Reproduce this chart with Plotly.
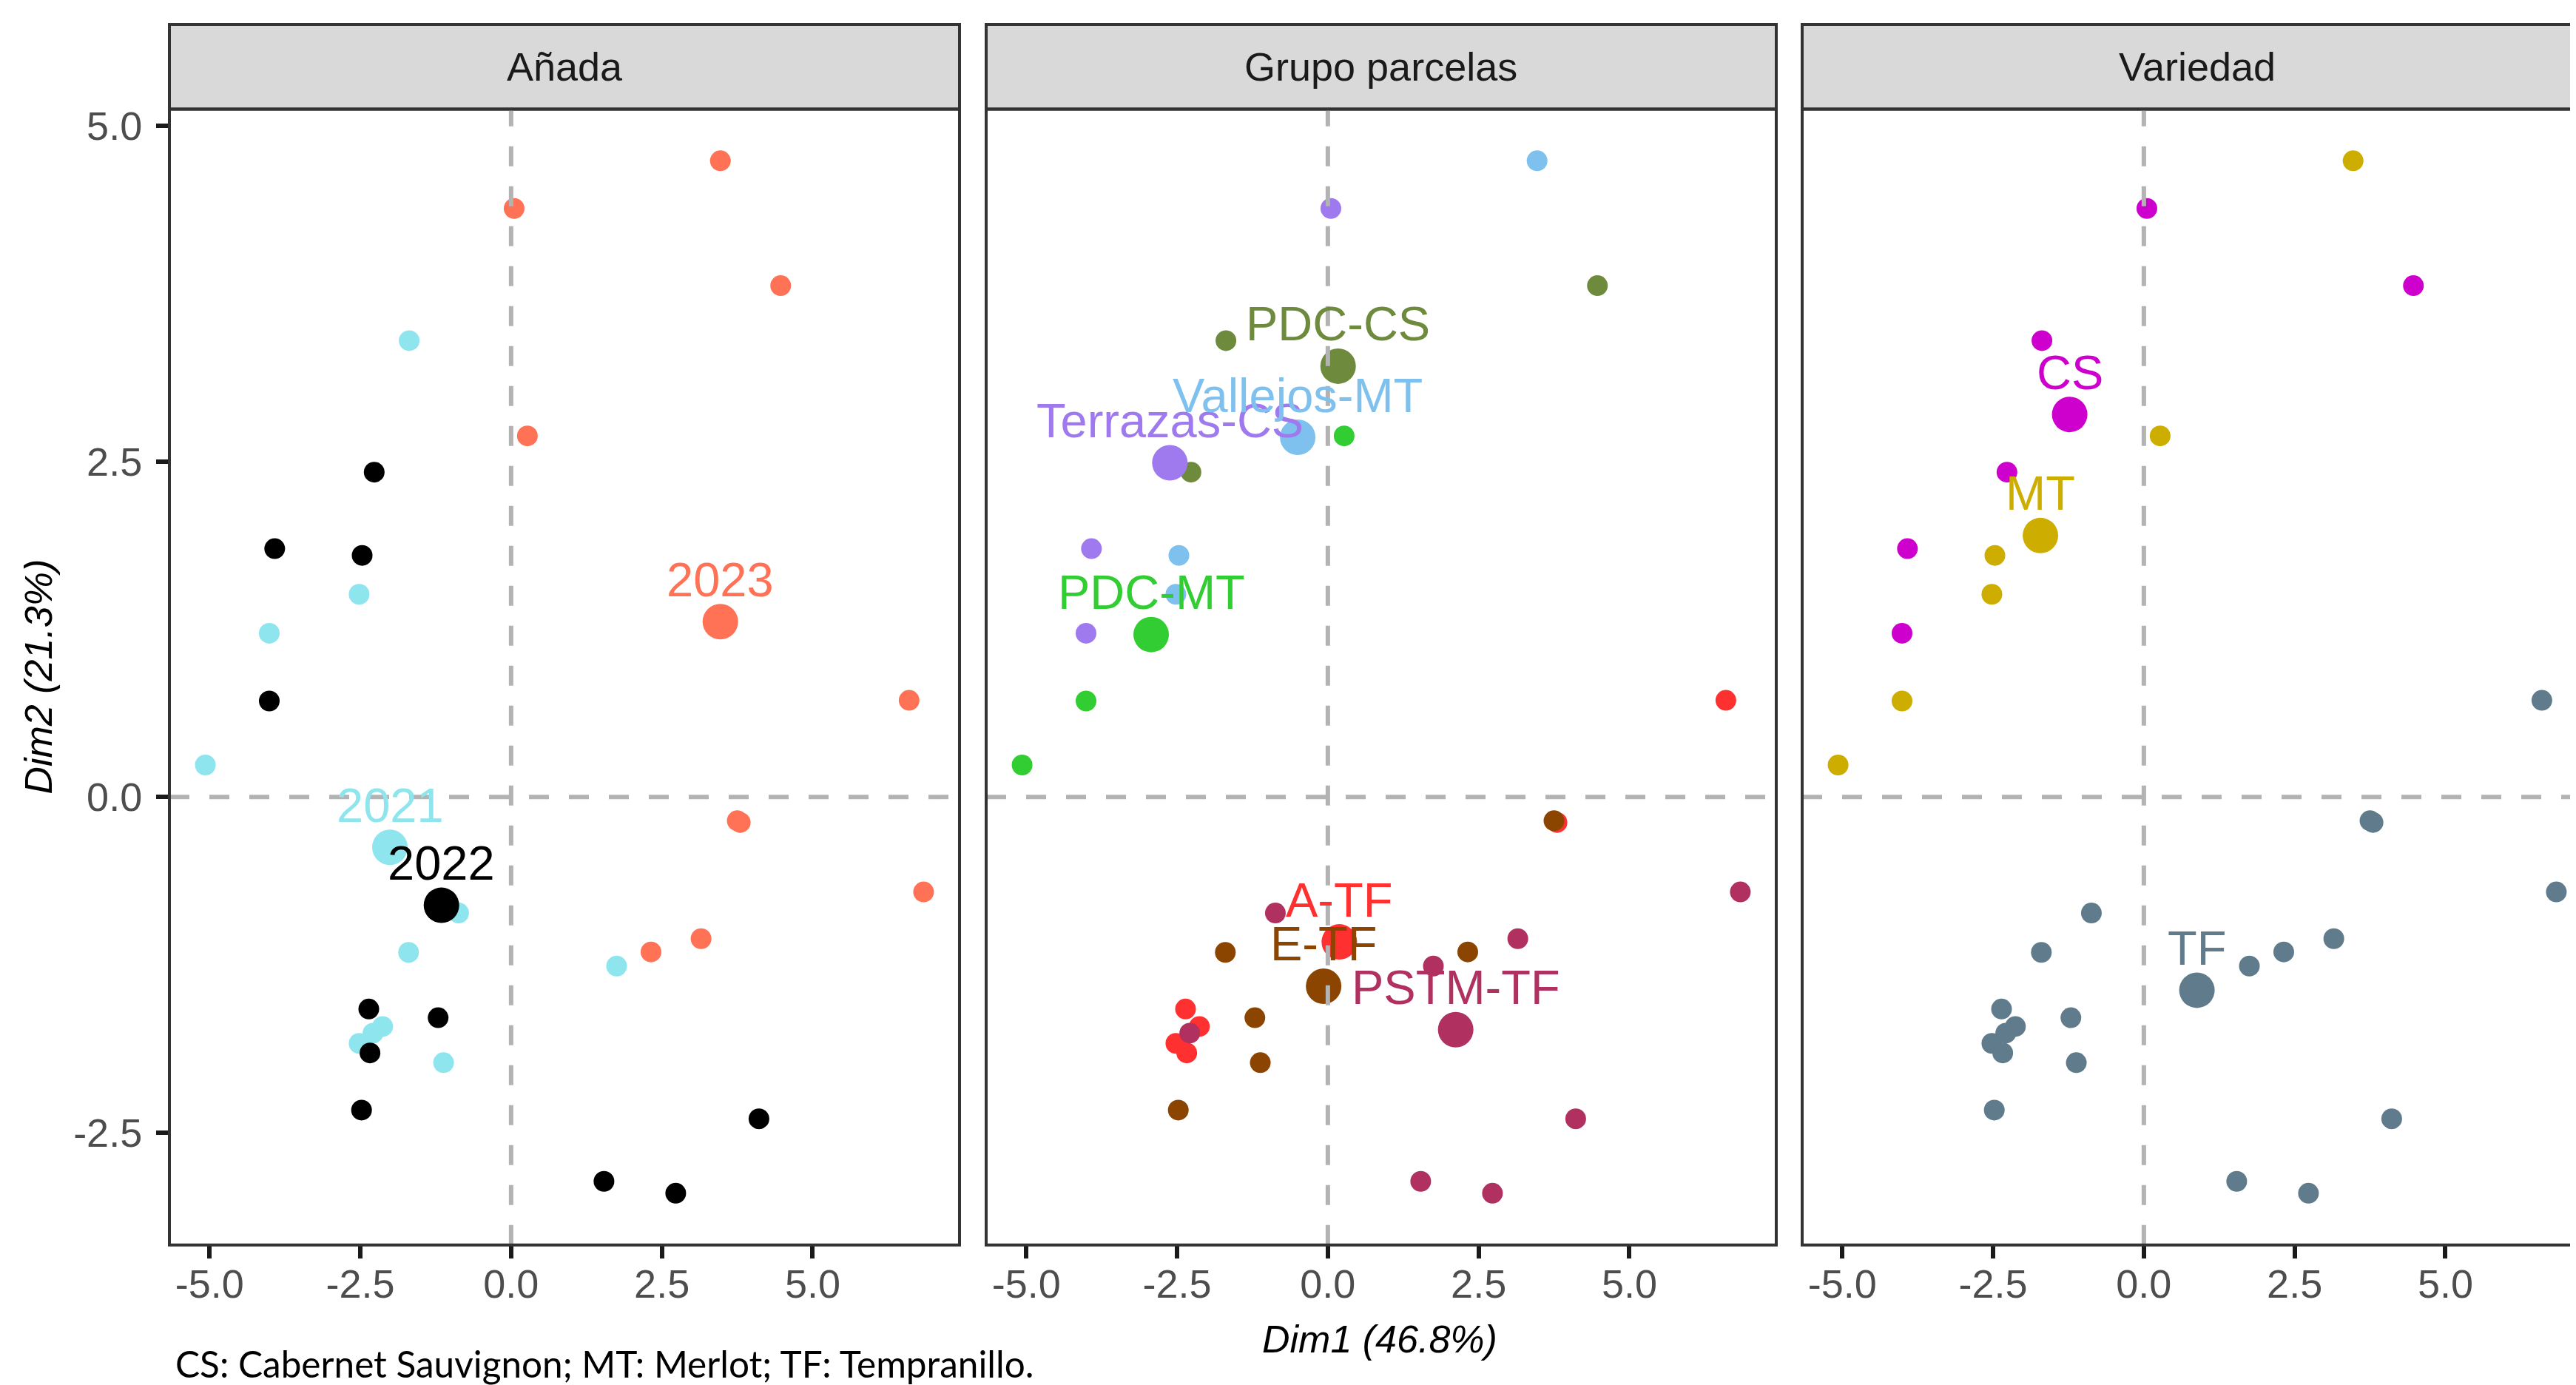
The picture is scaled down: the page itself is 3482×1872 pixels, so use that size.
import plotly.graph_objects as go

W, H = 3482, 1872
OFF = 8  # default browser body margin; figure is drawn 8px in from the top-left
FW, FH = W - OFF, H - OFF

# ---------------- data (individuals) ----------------
dim1 = [3.47, 0.05, 4.47, -1.69, 0.27, -2.27, -3.92, -2.47, -2.52, -4.01, -4.01, -5.07,
        6.60, 3.75, 3.80, -0.87, 6.84, 3.15, 2.32, -1.70, 1.75, -2.36, -1.21, -2.13,
        -2.29, -2.52, -2.34, -1.12, -2.48, 4.11, 1.54, 2.73]
dim2 = [4.74, 4.385, 3.81, 3.40, 2.69, 2.42, 1.85, 1.80, 1.51, 1.22, 0.715, 0.238,
        0.72, -0.177, -0.19, -0.865, -0.708, -1.056, -1.155, -1.158, -1.26, -1.58, -1.645, -1.71,
        -1.76, -1.836, -1.907, -1.98, -2.333, -2.398, -2.864, -2.953]
anada = ["2023", "2023", "2023", "2021", "2023", "2022", "2022", "2022", "2021", "2021", "2022", "2021",
         "2023", "2023", "2023", "2021", "2023", "2023", "2023", "2021", "2021", "2022", "2022", "2021",
         "2021", "2021", "2022", "2021", "2022", "2022", "2022", "2022"]
grupo = ["Vallejos-MT", "Terrazas-CS", "PDC-CS", "PDC-CS", "PDC-MT", "PDC-CS", "Terrazas-CS", "Vallejos-MT",
         "Vallejos-MT", "Terrazas-CS", "PDC-MT", "PDC-MT",
         "A-TF", "E-TF", "A-TF", "PSTM-TF", "PSTM-TF", "PSTM-TF", "E-TF", "E-TF", "PSTM-TF", "A-TF",
         "E-TF", "A-TF", "PSTM-TF", "A-TF", "A-TF", "E-TF", "E-TF", "PSTM-TF", "PSTM-TF", "PSTM-TF"]
variedad = ["MT", "CS", "CS", "CS", "MT", "CS", "CS", "MT", "MT", "CS", "MT", "MT"] + ["TF"] * 20

# ---------------- data (group centroids) ----------------
anada_levels = ["2021", "2022", "2023"]
anada_cx = [-2.01, -1.155, 3.47]
anada_cy = [-0.375, -0.807, 1.306]

grupo_levels = ["A-TF", "E-TF", "PDC-CS", "PDC-MT", "PSTM-TF", "Terrazas-CS", "Vallejos-MT"]
grupo_cx = [0.19, -0.07, 0.17, -2.93, 2.12, -2.62, -0.50]
grupo_cy = [-1.08, -1.41, 3.21, 1.21, -1.734, 2.49, 2.68]

variedad_levels = ["CS", "MT", "TF"]
variedad_cx = [-1.23, -1.715, 0.88]
variedad_cy = [2.85, 1.948, -1.44]

x_ticks = [-5.0, -2.5, 0.0, 2.5, 5.0]
x_ticktext = ["-5.0", "-2.5", "0.0", "2.5", "5.0"]
y_ticks = [-2.5, 0.0, 2.5, 5.0]
y_ticktext = ["-2.5", "0.0", "2.5", "5.0"]

facet_titles = ["Añada", "Grupo parcelas", "Variedad"]

# ---------------- styles ----------------
col_anada = {"2021": "#8EE5EE", "2022": "#000000", "2023": "#FF7256"}
col_grupo = {"A-TF": "#FF3030", "E-TF": "#8B4500", "PDC-CS": "#6E8B3D", "PDC-MT": "#32CD32",
             "PSTM-TF": "#B03060", "Terrazas-CS": "#9F79EE", "Vallejos-MT": "#7EC0EE"}
col_var = {"CS": "#CD00CD", "MT": "#CDAD00", "TF": "#607B8B"}

FONT = "Liberation Sans, Arial, sans-serif"
SMALL = 28
BIG = 48


def px(xp):
    return (xp - OFF) / FW


def py(yp):
    return 1 - (yp - OFF) / FH


# page-pixel layout
panel_top, panel_bot = 141, 1682
strip_top = 26
panels_px = [(229, 1297), (1333, 2401), (2436, 3504)]
xr_full = [-5.666, 7.436]
yr = [-3.338, 5.125]
unit = (panels_px[0][1] - panels_px[0][0]) / (xr_full[1] - xr_full[0])

fig = go.Figure()

facets = [
    (anada, anada_levels, anada_cx, anada_cy, col_anada),
    (grupo, grupo_levels, grupo_cx, grupo_cy, col_grupo),
    (variedad, variedad_levels, variedad_cx, variedad_cy, col_var),
]

annotations = []
shapes = []

for i, (lab, levels, cx, cy, cmap) in enumerate(facets):
    ax = "" if i == 0 else str(i + 1)
    xa, ya = "x" + ax, "y" + ax
    for lev in levels:
        xs = [dim1[k] for k in range(len(dim1)) if lab[k] == lev]
        ys = [dim2[k] for k in range(len(dim2)) if lab[k] == lev]
        fig.add_trace(go.Scatter(x=xs, y=ys, mode="markers", xaxis=xa, yaxis=ya,
                                 marker=dict(size=SMALL, color=cmap[lev], line=dict(width=0)),
                                 showlegend=False, hoverinfo="skip"))
    for j, lev in enumerate(levels):
        fig.add_trace(go.Scatter(x=[cx[j]], y=[cy[j]], mode="markers", xaxis=xa, yaxis=ya,
                                 marker=dict(size=BIG, color=cmap[lev], line=dict(width=0)),
                                 showlegend=False, hoverinfo="skip"))
    for j, lev in enumerate(levels):
        annotations.append(dict(x=cx[j], y=cy[j], xref=xa, yref=ya, text=lev, showarrow=False,
                                yshift=57, xanchor="center", yanchor="middle",
                                font=dict(family=FONT, size=65, color=cmap[lev])))

    p0, p1 = panels_px[i]
    right = min(p1, W)
    xrange = [xr_full[0], xr_full[0] + (right - p0) / unit]
    xaxis = dict(domain=[px(p0), min(px(right), 1.0)], range=xrange, anchor=ya,
                 showgrid=False, zeroline=False, showline=False,
                 tickvals=x_ticks, ticktext=x_ticktext, ticks="outside",
                 ticklen=17, tickwidth=6, tickcolor="#1A1A1A",
                 tickfont=dict(family=FONT, size=54, color="#4D4D4D"), ticklabelstandoff=-12)
    yaxis = dict(domain=[py(panel_bot), py(panel_top)], range=yr, anchor=xa,
                 showgrid=False, zeroline=False, showline=False)
    if i == 0:
        yaxis.update(tickvals=y_ticks, ticktext=y_ticktext, ticks="outside", ticklen=17,
                     tickwidth=6, tickcolor="#1A1A1A",
                     tickfont=dict(family=FONT, size=54, color="#4D4D4D"), ticklabelstandoff=8)
    else:
        yaxis.update(showticklabels=False, ticks="")
    fig.update_layout(**{"xaxis" + ax: xaxis, "yaxis" + ax: yaxis})

    # dashed reference lines (drawn on top, as in the reference)
    shapes.append(dict(type="line", xref=xa, yref=ya + " domain", x0=0, x1=0, y0=0, y1=1,
                       line=dict(color="#B3B3B3", width=6, dash="27px,27px"), layer="above"))
    shapes.append(dict(type="line", xref=xa + " domain", yref=ya, x0=0, x1=1, y0=0, y1=0,
                       line=dict(color="#B3B3B3", width=6, dash="27px,27px"), layer="above"))
    # strip
    shapes.append(dict(type="rect", xref="paper", yref="paper", x0=px(p0), x1=px(p1),
                       y0=py(panel_top), y1=py(strip_top),
                       fillcolor="#D9D9D9", line=dict(color="#333333", width=4), layer="below"))
    annotations.append(dict(x=px((p0 + p1) / 2), y=py((strip_top + panel_top) / 2),
                            xref="paper", yref="paper", text=facet_titles[i], showarrow=False,
                            xanchor="center", yanchor="middle",
                            font=dict(family=FONT, size=54, color="#1A1A1A")))
    # panel border
    shapes.append(dict(type="rect", xref="paper", yref="paper", x0=px(p0), x1=px(p1),
                       y0=py(panel_bot), y1=py(panel_top),
                       fillcolor="rgba(0,0,0,0)", line=dict(color="#333333", width=4), layer="above"))

# axis titles and caption
annotations.append(dict(x=px(1865), y=py(1810), xref="paper", yref="paper",
                        text="<i>Dim1 (46.8%)</i>", showarrow=False, xanchor="center", yanchor="middle",
                        font=dict(family=FONT, size=52, color="#000000")))
annotations.append(dict(x=px(52), y=py(911), xref="paper", yref="paper",
                        text="<i>Dim2 (21.3%)</i>", showarrow=False, textangle=-90,
                        xanchor="center", yanchor="middle",
                        font=dict(family=FONT, size=52, color="#000000")))
annotations.append(dict(x=px(235), y=py(1843), xref="paper", yref="paper",
                        text="CS: Cabernet Sauvignon; MT: Merlot; TF: Tempranillo.", showarrow=False,
                        xanchor="left", yanchor="middle",
                        font=dict(family="Lato, Liberation Sans, sans-serif", size=49.5, color="#000000")))

fig.update_layout(width=FW, height=FH, margin=dict(l=0, r=0, t=0, b=0),
                  paper_bgcolor="white", plot_bgcolor="white", showlegend=False,
                  shapes=shapes, annotations=annotations)

fig.write_html("out.html")
